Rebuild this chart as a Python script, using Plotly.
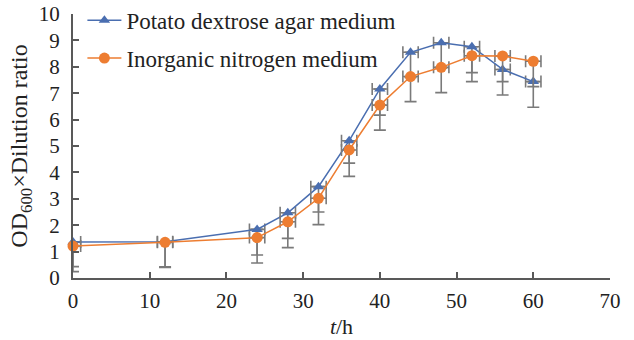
import plotly.graph_objects as go

t_hours = [0, 12, 24, 28, 32, 36, 40, 44, 48, 52, 56, 60]
pda_values = [1.36, 1.37, 1.84, 2.47, 3.46, 5.20, 7.16, 8.55, 8.91, 8.76, 7.90, 7.44]
pda_err_minus = [0.93, 0.95, 0.97, 0.97, 0.96, 0.85, 0.99, 0.95, 0.95, 0.98, 0.97, 0.97]
inorg_values = [1.21, 1.35, 1.53, 2.13, 3.02, 4.85, 6.55, 7.63, 7.98, 8.42, 8.41, 8.21]
inorg_err_minus = [0.97, 0.95, 0.96, 0.98, 1.00, 1.00, 0.95, 0.95, 0.96, 0.98, 0.97, 0.96]
t_err = [1.0] * len(t_hours)

series_names = ["Potato dextrose agar medium", "Inorganic nitrogen medium"]
x_ticks = [0, 10, 20, 30, 40, 50, 60, 70]
y_ticks = [0, 1, 2, 3, 4, 5, 6, 7, 8, 9, 10]

BLUE = "#4a6eb0"
ORANGE = "#ed7d31"
GRAY = "#7a7a7a"
AXIS = "#595959"
FONT = "'Liberation Serif', 'Times New Roman', serif"

fig = go.Figure()

def add_series(name, y, yminus, color, symbol, size, group):
    fig.add_trace(go.Scatter(
        x=t_hours, y=y, name=name, mode="lines+markers",
        legendgroup=group,
        line=dict(color=color, width=1.5),
        marker=dict(symbol=symbol, size=size, color=color),
        error_y=dict(type="data", symmetric=False, array=[0] * len(y),
                     arrayminus=yminus, color=GRAY, thickness=1.6, width=6),
        error_x=dict(type="data", array=t_err, color=GRAY, thickness=1.6, width=6),
        cliponaxis=False,
    ))

add_series(series_names[0], pda_values, pda_err_minus, BLUE, "triangle-up", 10, "a")
add_series(series_names[1], inorg_values, inorg_err_minus, ORANGE, "circle", 11, "b")

fig.update_layout(
    width=634, height=340,
    margin=dict(l=73, r=24, t=14, b=62, autoexpand=False),
    paper_bgcolor="white", plot_bgcolor="white",
    font=dict(family=FONT, size=21, color="#222222"),
    showlegend=True,
    legend=dict(x=0.0175, y=1.058, xanchor="left", yanchor="top",
                font=dict(family=FONT, size=23, color="#222222"),
                bgcolor="rgba(0,0,0,0)", tracegroupgap=5,
                itemwidth=34),
    xaxis=dict(range=[0, 70], tickvals=x_ticks, ticks="inside", ticklen=6,
               tickwidth=1.5, tickcolor=AXIS, showline=True, linecolor=AXIS,
               linewidth=2, showgrid=False, zeroline=False,
               ticklabelstandoff=3,
               tickfont=dict(family=FONT, size=21),
               title=dict(text="<i>t</i>/h", font=dict(family=FONT, size=22),
                          standoff=6)),
    yaxis=dict(range=[0, 10], tickvals=y_ticks, ticks="inside", ticklen=6,
               tickwidth=1.5, tickcolor=AXIS, showline=True, linecolor=AXIS,
               linewidth=2, showgrid=False, zeroline=False,
               ticklabelstandoff=7,
               tickfont=dict(family=FONT, size=21),
               title=dict(text="OD<sub>600</sub>×Dilution ratio",
                          font=dict(family=FONT, size=24), standoff=4)),
)

fig.write_html("out.html")
